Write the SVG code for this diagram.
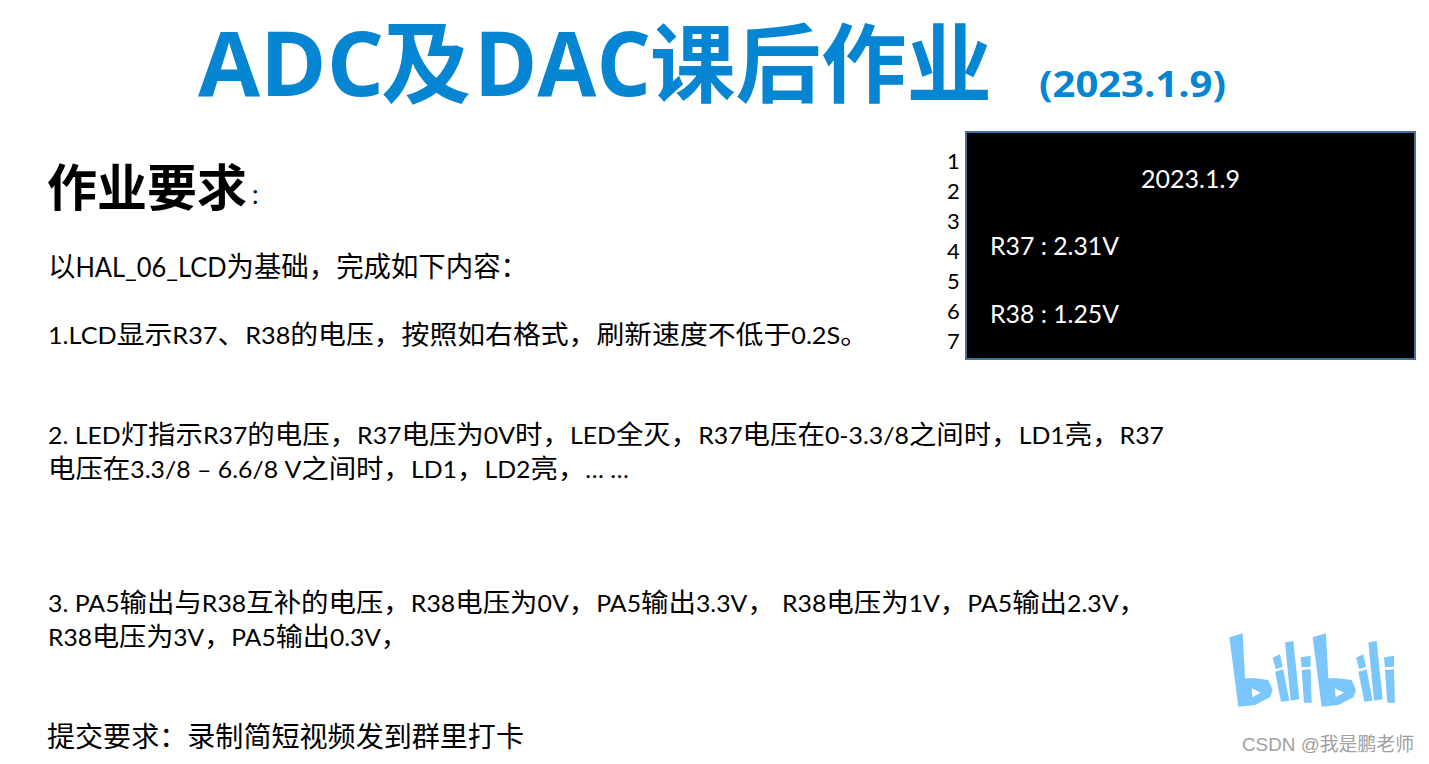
<svg xmlns="http://www.w3.org/2000/svg" width="1429" height="764" viewBox="0 0 1429 764">
<style>
text{font-family:"Lato","Noto Sans CJK SC",sans-serif;fill:#000}
.b{font-size:26.500px}
.big{font-size:28px}
.l{font-size:24px}
.w{fill:#fff;font-size:25px}
.n{font-size:22px}
.t{fill:#0685d2;font-weight:700;font-family:"Open Sans","Noto Sans CJK SC",sans-serif}
</style>
<defs>
<g id="bili" fill="#7cc6fe">
<path d="M88 82L128 70L135 205L165 205L205 210L218 240L210 262L165 285L115 290Z"/>
<path d="M155 235L182 248L157 262Z" fill="#fff"/>
<path d="M218 143L240 133L248 170L228 178Z"/>
<path d="M225 185L250 178L268 272L243 275Z"/>
<path d="M255 97L280 93L298 268L272 272Z"/>
<path d="M302 142L332 137L332 170L305 172Z"/>
<path d="M305 180L332 178L335 278L312 278Z"/>
</g>
</defs>
<rect width="1429" height="764" fill="#fff"/>
<text class="t" x="198" y="96" font-size="90" textLength="186" lengthAdjust="spacingAndGlyphs">ADC</text>
<text class="t" x="381" y="96" font-size="90" textLength="90" lengthAdjust="spacingAndGlyphs">及</text>
<text class="t" x="474" y="96" font-size="90" textLength="177" lengthAdjust="spacingAndGlyphs">DAC</text>
<text class="t" x="650" y="96" font-size="86" textLength="342" lengthAdjust="spacingAndGlyphs">课后作业</text>
<text class="t" x="1039" y="97" font-size="36" textLength="187" lengthAdjust="spacingAndGlyphs">(2023.1.9)</text>
<text x="47" y="206" font-size="50" font-weight="700" textLength="200" lengthAdjust="spacingAndGlyphs">作业要求</text>
<text x="252" y="204" font-size="26">:</text>
<text class="big" x="48" y="277" textLength="480" lengthAdjust="spacingAndGlyphs">以<tspan class="l" style="font-size:26px">HAL_06_LCD</tspan>为基础，完成如下内容：</text>
<text class="b" x="48" y="344" textLength="820" lengthAdjust="spacingAndGlyphs"><tspan class="l">1.LCD</tspan>显示<tspan class="l">R37</tspan>、<tspan class="l">R38</tspan>的电压，按照如右格式，刷新速度不低于<tspan class="l">0.2S</tspan>。</text>
<text class="b" x="48" y="444" textLength="1116" lengthAdjust="spacingAndGlyphs"><tspan class="l">2. LED</tspan>灯指示<tspan class="l">R37</tspan>的电压，<tspan class="l">R37</tspan>电压为<tspan class="l">0V</tspan>时，<tspan class="l">LED</tspan>全灭，<tspan class="l">R37</tspan>电压在<tspan class="l">0-3.3/8</tspan>之间时，<tspan class="l">LD1</tspan>亮，<tspan class="l">R37</tspan></text>
<text class="b" x="48" y="478" textLength="581" lengthAdjust="spacingAndGlyphs">电压在<tspan class="l">3.3/8 – 6.6/8 V</tspan>之间时，<tspan class="l">LD1</tspan>，<tspan class="l">LD2</tspan>亮，<tspan class="l">… …</tspan></text>
<text class="b" x="48" y="612" textLength="1098" lengthAdjust="spacingAndGlyphs"><tspan class="l">3. PA5</tspan>输出与<tspan class="l">R38</tspan>互补的电压，<tspan class="l">R38</tspan>电压为<tspan class="l">0V</tspan>，<tspan class="l">PA5</tspan>输出<tspan class="l">3.3V</tspan>， <tspan class="l">R38</tspan>电压为<tspan class="l">1V</tspan>，<tspan class="l">PA5</tspan>输出<tspan class="l">2.3V</tspan>，</text>
<text class="b" x="48" y="646" textLength="360" lengthAdjust="spacingAndGlyphs"><tspan class="l">R38</tspan>电压为<tspan class="l">3V</tspan>，<tspan class="l">PA5</tspan>输出<tspan class="l">0.3V</tspan>，</text>
<text x="47" y="747" font-size="28" textLength="477" lengthAdjust="spacingAndGlyphs">提交要求：录制简短视频发到群里打卡</text>
<g id="lcd">
<rect x="966" y="132" width="449" height="227" fill="#000" stroke="#41719c" stroke-width="2"/>
<text class="w" x="1190.500" y="188" text-anchor="middle">2023.1.9</text>
<text class="w" x="990" y="255" textLength="129" lengthAdjust="spacingAndGlyphs">R37 : 2.31V</text>
<text class="w" x="990" y="323" textLength="129" lengthAdjust="spacingAndGlyphs">R38 : 1.25V</text>
</g>
<g id="line-numbers">
<text class="n" x="947" y="169">1</text>
<text class="n" x="947" y="199">2</text>
<text class="n" x="947" y="229">3</text>
<text class="n" x="947" y="259">4</text>
<text class="n" x="947" y="289">5</text>
<text class="n" x="947" y="319">6</text>
<text class="n" x="947" y="349">7</text>
</g>
<g id="logo" transform="translate(1200 610) scale(.3333)">
<use href="#bili"/>
<use href="#bili" x="250"/>
</g>
<text x="1242" y="751" font-size="19" style="fill:#a0a0a0;font-family:'Liberation Sans','Noto Sans CJK SC',sans-serif" textLength="172" lengthAdjust="spacingAndGlyphs">CSDN @我是鹏老师</text>
</svg>
